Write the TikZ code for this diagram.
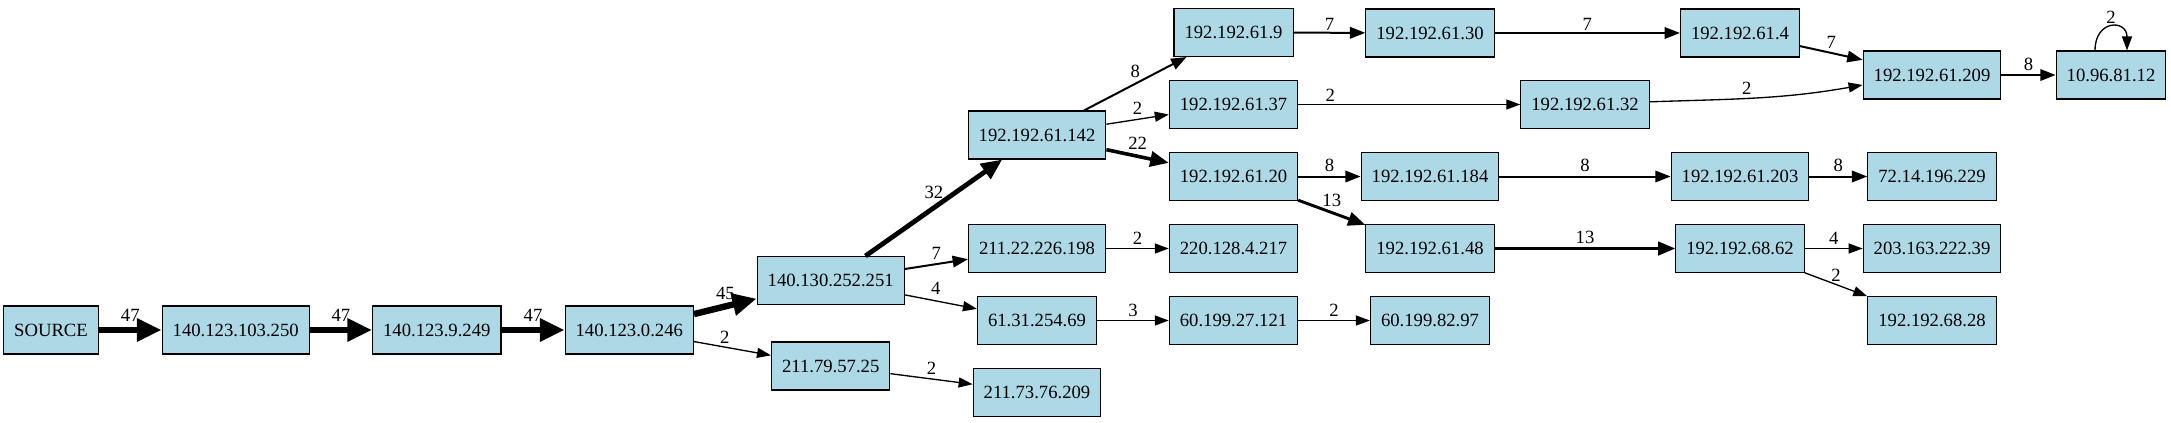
\documentclass[tikz,border=0pt]{standalone}
\usepackage{fontspec}
\setmainfont{Liberation Serif}
\usepackage{xcolor}
\usepackage{tikz}
\usetikzlibrary{arrows.meta}
\definecolor{hostblue}{HTML}{ADD8E6}

\begin{document}
\begin{tikzpicture}[x=0.75pt,y=-0.75pt,
  host/.style={draw,fill=hostblue,line width=0.8pt,minimum height=36pt,inner xsep=7.9pt,font=\fontsize{14}{16}\selectfont},
  flow/.style={line width=#1,-{Triangle[length=8.5pt 2,width=5.25pt 2.25]}},
  lbl/.style={inner sep=1pt,font=\fontsize{14}{16}\selectfont}]
\useasboundingbox (0,0) rectangle (2171,422);

\node[host] (src)     at (51,330)     {SOURCE};
\node[host] (n103250) at (235.7,330)  {140.123.103.250};
\node[host] (n9249)   at (436.8,330)  {140.123.9.249};
\node[host] (n0246)   at (629.3,330)  {140.123.0.246};
\node[host] (n252251) at (830.7,280.5) {140.130.252.251};
\node[host] (n5725)   at (830.7,366)  {211.79.57.25};

\node[host] (n61142)  at (1037,135)   {192.192.61.142};
\node[host] (n226198) at (1037,248.5) {211.22.226.198};
\node[host] (n25469)  at (1037,320.5) {61.31.254.69};
\node[host] (n76209)  at (1037,392.5) {211.73.76.209};

\node[host] (n619)    at (1233.5,32.5)  {192.192.61.9};
\node[host] (n6137)   at (1233.5,104.5) {192.192.61.37};
\node[host] (n6120)   at (1233.5,176.5) {192.192.61.20};
\node[host] (n4217)   at (1233.5,248.5) {220.128.4.217};
\node[host] (n27121)  at (1233.5,320.5) {60.199.27.121};

\node[host] (n6130)   at (1430,33)    {192.192.61.30};
\node[host] (n61184)  at (1430,176.5) {192.192.61.184};
\node[host] (n6148)   at (1430,248.5) {192.192.61.48};
\node[host] (n8297)   at (1430,320.5) {60.199.82.97};
\node[host] (n6132)   at (1585,104.5) {192.192.61.32};

\node[host] (n614)    at (1740,33)    {192.192.61.4};
\node[host] (n61203)  at (1740,176.5) {192.192.61.203};
\node[host] (n6862)   at (1740,248.5) {192.192.68.62};

\node[host] (n61209)  at (1932,75)    {192.192.61.209};
\node[host] (n196229) at (1932,176.5) {72.14.196.229};
\node[host] (n22239)  at (1932,248.5) {203.163.222.39};
\node[host] (n6828)   at (1932,320.5) {192.192.68.28};
\node[host] (n8112)   at (2111,75)    {10.96.81.12};

\draw[flow=5pt] (src) -- node[lbl,above=3pt] {47} (n103250);
\draw[flow=5pt] (n103250) -- node[lbl,above=3pt] {47} (n9249);
\draw[flow=5pt] (n9249) -- node[lbl,above=3pt] {47} (n0246);
\draw[flow=4.8pt] (n0246) -- node[lbl,above=1.5pt] {45} (n252251);
\draw[flow=1pt] (n0246) -- node[lbl,pos=0.4,above=1pt] {2} (n5725);

\draw[flow=3.6pt] (n252251) -- node[lbl,above=4pt] {32} (n61142);
\draw[flow=1.5pt] (n252251) -- node[lbl,above=1.5pt] {7} (n226198);
\draw[flow=1pt] (n252251) -- node[lbl,pos=0.43,above=3pt] {4} (n25469);
\draw[flow=1pt] (n5725) -- node[lbl,above=1.5pt] {2} (n76209);

\draw[flow=1.5pt] (n61142) -- node[lbl,above=3pt] {8} (n619);
\draw[flow=1pt] (n61142) -- node[lbl,above=2.5pt] {2} (n6137);
\draw[flow=2.7pt] (n61142) -- node[lbl,above=2.5pt] {22} (n6120);
\draw[flow=1pt] (n226198) -- node[lbl,above=1.5pt] {2} (n4217);
\draw[flow=1pt] (n25469) -- node[lbl,above=1.5pt] {3} (n27121);

\draw[flow=1.5pt] (n619) -- node[lbl,above] {7} (n6130);
\draw[flow=1pt] (n6137) -- node[lbl,pos=0.144,above=1pt] {2} (n6132);
\draw[flow=1.5pt] (n6120) -- node[lbl,above=1.5pt] {8} (n61184);
\draw[flow=2.2pt] (n6120) -- node[lbl,above=2.5pt] {13} (n6148);
\draw[flow=1pt] (n27121) -- node[lbl,above=1.5pt] {2} (n8297);

\draw[flow=1.5pt] (n6130) -- node[lbl,above] {7} (n614);
\draw[flow=1.5pt] (n61184) -- node[lbl,above=2pt] {8} (n61203);
\draw[flow=2.2pt] (n6148) -- node[lbl,above=1.5pt] {13} (n6862);
\draw[flow=1pt] ([yshift=2pt]n6132.east) to[out=2,in=190] node[lbl,pos=0.45,above=1pt] {2} ([yshift=-7.5pt]n61209.west);

\draw[flow=1.5pt] (n614) -- node[lbl,above=1.5pt] {7} (n61209);
\draw[flow=1.5pt] (n61203) -- node[lbl,above=1.5pt] {8} (n196229);
\draw[flow=1pt] (n6862) -- node[lbl,above=1.5pt] {4} (n22239);
\draw[flow=1pt] (n6862) -- node[lbl,above=0.5pt] {2} (n6828);

\draw[flow=1.5pt] (n61209) -- node[lbl,above=1.5pt] {8} (n8112);
\draw[flow=1pt] ([xshift=-12pt]n8112.north) to[out=90,in=90,looseness=2.5] node[lbl,above=1.5pt] {2} ([xshift=12pt]n8112.north);

\end{tikzpicture}
\end{document}
